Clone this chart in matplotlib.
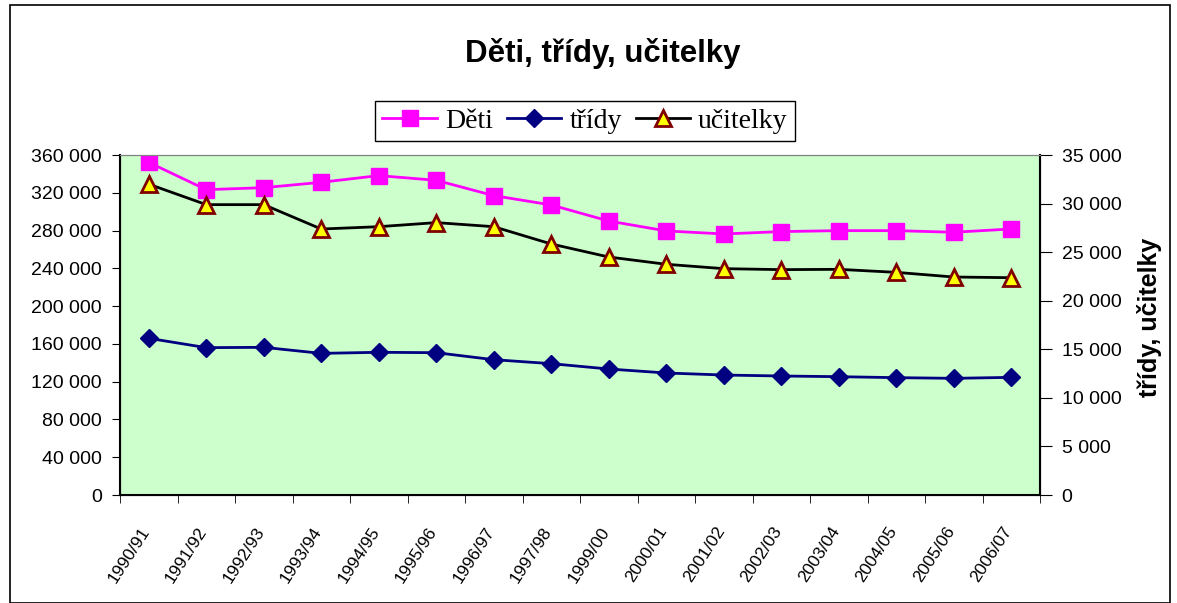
import numpy as np
import matplotlib.pyplot as plt
from matplotlib.patches import Rectangle
from matplotlib.transforms import ScaledTranslation

years = ['1990/91', '1991/92', '1992/93', '1993/94', '1994/95', '1995/96', '1996/97', '1997/98',
         '1999/00', '2000/01', '2001/02', '2002/03', '2003/04', '2004/05', '2005/06', '2006/07']
deti = [352200, 323300, 325400, 331100, 338200, 333200, 317000, 307100,
        290100, 279600, 276400, 278900, 279900, 279900, 278200, 281700]
tridy = [16130, 15170, 15200, 14580, 14690, 14650, 13930, 13520,
         12970, 12560, 12350, 12250, 12180, 12080, 12010, 12110]
ucitelky = [32000, 29890, 29890, 27380, 27620, 28040, 27620, 25840,
            24500, 23750, 23300, 23200, 23230, 22920, 22440, 22370]

def fmt(v):
    return '{:,}'.format(int(v)).replace(',', ' ')

plt.rcParams['font.family'] = ['Liberation Sans', 'DejaVu Sans']

fig = plt.figure(figsize=(11.77, 6.03), dpi=100)
fig.patches.append(Rectangle((10/1177, 0), 1160/1177, 1 - 5/603, transform=fig.transFigure,
                             fill=False, edgecolor='black', linewidth=1.2))

ax = fig.add_axes([120/1177, 1 - 495/603, 920/1177, 340/603])
ax2 = ax.twinx()
ax.set_facecolor('#CCFFCC')

x = np.arange(len(years))
l1, = ax.plot(x, deti, color='#FF00FF', marker='s', markersize=11, linewidth=2, label='Děti')
l2, = ax2.plot(x, tridy, color='#000080', marker='D', markersize=9, linewidth=2, label='třídy')
l3, = ax2.plot(x, ucitelky, color='black', marker='^', markersize=11, linewidth=2,
               markerfacecolor='#FFFF00', markeredgecolor='#800000', markeredgewidth=2,
               label='učitelky')

ax.set_xlim(-0.5, len(years) - 0.5)
ax.set_ylim(0, 360000)
ax2.set_ylim(0, 35000)

ax.set_yticks(np.arange(0, 360001, 40000))
ax.set_yticklabels([fmt(v) for v in np.arange(0, 360001, 40000)], fontsize=14)
ax2.set_yticks(np.arange(0, 35001, 5000))
ax2.set_yticklabels([fmt(v) for v in np.arange(0, 35001, 5000)], fontsize=14)

ax.set_xticks(x)
ax.set_xticklabels(years, rotation=57, ha='right', va='top', rotation_mode='anchor', fontsize=12.5)
ax.tick_params(axis='x', length=0, pad=21)
ax.set_xticks(np.arange(-0.5, len(years)), minor=True)
ax.tick_params(axis='x', which='minor', length=6, direction='out')
ax.tick_params(axis='y', direction='out', length=6, pad=7)
ax2.tick_params(axis='y', direction='out', length=8.5, pad=7)

# nudge the rotated year labels left so their tops sit under the points
shift = ScaledTranslation(-9/100, 0, fig.dpi_scale_trans)
for lab in ax.get_xticklabels():
    lab.set_transform(lab.get_transform() + shift)

for a in (ax, ax2):
    a.spines['top'].set_color('#808080')
    a.spines['left'].set_color('black')
    a.spines['right'].set_color('black')
    a.spines['bottom'].set_color('black')
ax.spines['left'].set_linewidth(1.5)
ax.spines['bottom'].set_linewidth(1.5)
ax2.spines['right'].set_linewidth(1.5)

ax2.set_ylabel('třídy, učitelky', fontsize=18, fontweight='bold')
ax2.yaxis.set_label_coords((1137 - 120) / 920, (495 - 317) / 340)

fig.text(0.512, 1 - 62/603, 'Děti, třídy, učitelky', ha='center', va='baseline',
         fontsize=22.5, fontweight='bold')

leg = fig.legend(handles=[l1, l2, l3], loc='center', bbox_to_anchor=(585/1177, 1 - 121/603),
                 ncol=3, frameon=True, fancybox=False, edgecolor='black', framealpha=1,
                 handlelength=1.95, handletextpad=0.3, columnspacing=0.5, borderpad=0.25,
                 borderaxespad=0, prop={'family': 'Liberation Serif', 'size': 20})
leg.get_frame().set_linewidth(1)

fig.savefig('out.png', dpi=100)
